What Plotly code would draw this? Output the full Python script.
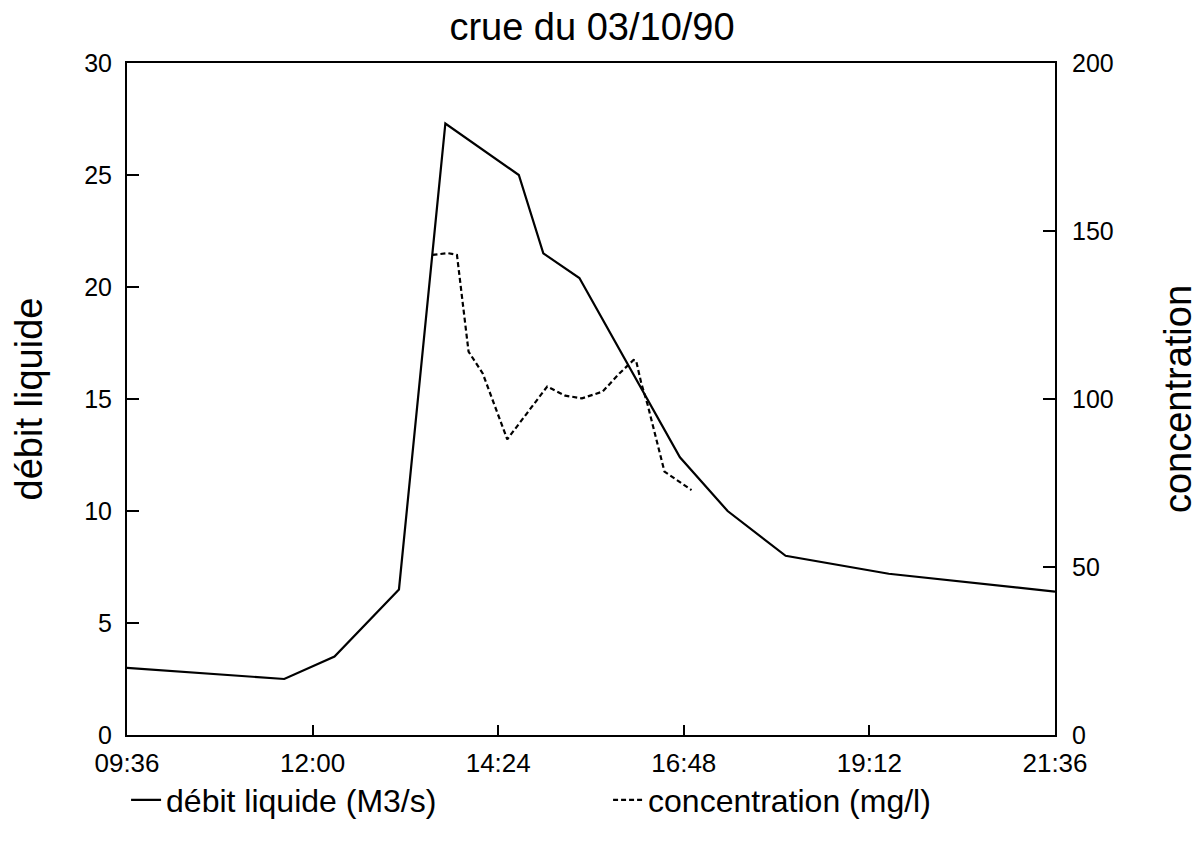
import plotly.graph_objects as go

day = "1990-10-03 "
debit_t = ["09:36", "11:38", "12:17", "13:07", "13:43", "14:40", "14:59", "15:27",
           "16:45", "17:22", "18:07", "19:27", "21:36"]
debit_v = [3.0, 2.5, 3.5, 6.5, 27.3, 25.0, 21.5, 20.4, 12.4, 10.0, 8.0, 7.2, 6.4]

conc_t = ["13:33", "13:45", "13:52", "14:01", "14:12", "14:31", "15:02", "15:16", "15:29",
          "15:45", "15:58", "16:09", "16:11", "16:15", "16:20", "16:33", "16:54"]
conc_v = [142.9, 143.4, 142.9, 114.1, 107.6, 88.0, 103.7, 101.0, 100.2,
          102.2, 107.6, 111.6, 111.4, 104.7, 98.2, 78.4, 72.9]

x_ticks = ["09:36", "12:00", "14:24", "16:48", "19:12", "21:36"]

font = "Liberation Sans, Arial, sans-serif"

fig = go.Figure()
fig.add_trace(go.Scatter(x=[day + t for t in debit_t], y=debit_v, mode="lines",
                         name="débit liquide (M3/s)",
                         line=dict(color="black", width=2.2)))
fig.add_trace(go.Scatter(x=[day + t for t in conc_t], y=conc_v, mode="lines",
                         name="concentration (mg/l)", yaxis="y2",
                         line=dict(color="black", width=2.2, dash="5px,3px")))

fig.update_layout(
    width=1204, height=849,
    margin=dict(l=127, r=147, t=63, b=114),
    paper_bgcolor="white", plot_bgcolor="white",
    font=dict(family=font, color="black", size=25),
    title=dict(text="crue du 03/10/90", x=0.4917, xanchor="center", y=0.969, yanchor="middle",
               font=dict(size=38)),
    xaxis=dict(type="date", range=[day + "09:36", day + "21:36"],
               tickvals=[day + t for t in x_ticks], ticktext=x_ticks,
               ticks="inside", ticklen=10, tickwidth=1.5, tickcolor="black",
               showgrid=False, zeroline=False, showline=True, linecolor="black",
               linewidth=2, mirror=True, tickfont=dict(size=26), ticklabelstandoff=4),
    yaxis=dict(range=[0, 30], tickvals=[0, 5, 10, 15, 20, 25, 30],
               ticks="inside", ticklen=12, tickwidth=1.5, tickcolor="black",
               showgrid=False, zeroline=False, showline=True, linecolor="black",
               linewidth=2, mirror=True, ticklabelstandoff=8,
               title=dict(text="débit liquide", font=dict(size=38), standoff=30)),
    yaxis2=dict(range=[0, 200], tickvals=[0, 50, 100, 150, 200], overlaying="y", side="right",
                ticks="inside", ticklen=12, tickwidth=1.5, tickcolor="black",
                showgrid=False, zeroline=False, showline=True, linecolor="black",
                linewidth=2, ticklabelstandoff=10,
                title=dict(text="concentration", font=dict(size=38), standoff=52)),
    legend=dict(orientation="h", x=-0.001, xanchor="left", y=-0.056, yanchor="top",
                font=dict(size=32), entrywidth=437, bgcolor="rgba(0,0,0,0)"),
    showlegend=True,
)

fig.write_html("out.html")
